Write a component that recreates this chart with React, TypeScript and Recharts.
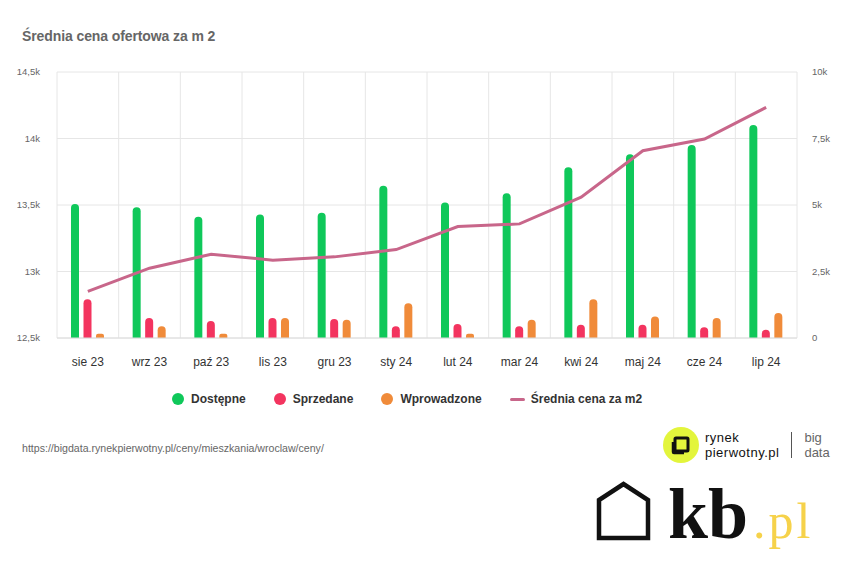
import React from 'react'
import { ComposedChart, Bar, Line, XAxis, YAxis, CartesianGrid, Legend } from 'recharts'

// monthly offer data, Wrocław
const months = ['sie 23', 'wrz 23', 'paź 23', 'lis 23', 'gru 23', 'sty 24', 'lut 24', 'mar 24', 'kwi 24', 'maj 24', 'cze 24', 'lip 24']
const dostepne = [5040, 4920, 4560, 4640, 4710, 5720, 5090, 5440, 6420, 6910, 7260, 8010]
const sprzedane = [1460, 750, 640, 750, 710, 440, 530, 440, 500, 500, 400, 310]
const wprowadzone = [160, 440, 160, 750, 690, 1310, 160, 690, 1460, 810, 750, 940]
const cena = [12850, 13025, 13130, 13085, 13110, 13165, 13338, 13358, 13559, 13908, 13996, 14234]

const priceTicks = [12500, 13000, 13500, 14000, 14500]
const countTicks = [0, 2500, 5000, 7500, 10000]

const data = months.map((m, i) => ({
  month: m,
  Dostępne: dostepne[i],
  Sprzedane: sprzedane[i],
  Wprowadzone: wprowadzone[i],
  'Średnia cena za m2': cena[i],
}))

const fmtK = (v: number) => (v === 0 ? '0' : String(v / 1000).replace('.', ',') + 'k')

const GREEN = '#0fc85a'
const RED = '#f3345f'
const ORANGE = '#f08b3a'
const PINK = '#c8668a'

function LegendContent({ payload }: any) {
  return (
    <div style={{ display: 'flex', alignItems: 'center', height: 20, gap: 28 }}>
      {(payload || []).map((e: any) => (
        <div key={e.value} style={{ display: 'flex', alignItems: 'center' }}>
          {e.type === 'line' ? (
            <span style={{ width: 15, height: 3, borderRadius: 2, background: e.color, marginRight: 6 }} />
          ) : (
            <span style={{ width: 12, height: 12, borderRadius: 6, background: e.color, marginRight: 7 }} />
          )}
          <span style={{ fontSize: 12, fontWeight: 700, color: '#333' }}>{e.value}</span>
        </div>
      ))}
    </div>
  )
}

export default function App() {
  return (
    <div style={{ position: 'absolute', left: 0, top: 0, width: 850, height: 579, background: '#fff', fontFamily: '"Liberation Sans", Arial, sans-serif', overflow: 'hidden' }}>
      <div style={{ position: 'absolute', left: 22, top: 28, fontSize: 14, lineHeight: '16px', fontWeight: 700, color: '#666', letterSpacing: -0.1 }}>
        Średnia cena ofertowa za m 2
      </div>

      <ComposedChart width={850} height={420} data={data} margin={{ top: 72, right: 0, left: 0, bottom: 52 }} barGap={4.5}>
        <CartesianGrid
          yAxisId="left"
          stroke="#e6e6e6"
          verticalCoordinatesGenerator={({ offset }: any) =>
            Array.from({ length: months.length + 1 }, (_, i) => offset.left + (i * offset.width) / months.length)
          }
        />
        <XAxis dataKey="month" height={30} tickSize={0} tickMargin={19} axisLine={{ stroke: '#dcdcdc' }} tick={{ fontSize: 12, fill: '#333' }} interval={0} />
        <YAxis yAxisId="left" orientation="left" width={57} domain={[12500, 14500]} ticks={priceTicks} tickFormatter={fmtK} axisLine={false} tickLine={false} tickSize={0} tickMargin={17} tick={{ fontSize: 9.5, fill: '#666' }} />
        <YAxis yAxisId="right" orientation="right" width={53} domain={[0, 10000]} ticks={countTicks} tickFormatter={fmtK} axisLine={false} tickLine={false} tickSize={0} tickMargin={15} tick={{ fontSize: 9.5, fill: '#666' }} />
        <Legend verticalAlign="middle" layout="horizontal" wrapperStyle={{ top: 389, left: 172, width: 'auto' }} content={<LegendContent />} />
        <Bar yAxisId="right" dataKey="Dostępne" fill={GREEN} barSize={8} radius={[4, 4, 0, 0]} isAnimationActive={false} />
        <Bar yAxisId="right" dataKey="Sprzedane" fill={RED} barSize={8} radius={[4, 4, 0, 0]} isAnimationActive={false} />
        <Bar yAxisId="right" dataKey="Wprowadzone" fill={ORANGE} barSize={8} radius={[4, 4, 0, 0]} isAnimationActive={false} />
        <Line yAxisId="left" type="linear" dataKey="Średnia cena za m2" stroke={PINK} strokeWidth={3} dot={false} activeDot={false} legendType="line" isAnimationActive={false} />
      </ComposedChart>

      <div style={{ position: 'absolute', left: 22, top: 441, fontSize: 10.6, lineHeight: '14px', color: '#666' }}>
        https://bigdata.rynekpierwotny.pl/ceny/mieszkania/wroclaw/ceny/
      </div>

      {/* rynekpierwotny.pl | big data */}
      <div style={{ position: 'absolute', left: 663, top: 427, display: 'flex', alignItems: 'center' }}>
        <div style={{ width: 36, height: 36, borderRadius: 18, background: '#e3f53c', display: 'flex', alignItems: 'center', justifyContent: 'center' }}>
          <svg width={20} height={20} viewBox="0 0 20 20">
            <path d="M5 3 H16 Q17 3 17 4 V15 Q17 16 16 16 H5 Q4 16 4 15 V4 Q4 3 5 3 Z" fill="none" stroke="#111" strokeWidth={3} />
            <path d="M2 7 V17 Q2 18 3 18 H13" fill="none" stroke="#111" strokeWidth={2.5} />
          </svg>
        </div>
        <div style={{ marginLeft: 6, fontSize: 13, lineHeight: '15px', color: '#111', letterSpacing: 0.5 }}>
          <div>rynek</div>
          <div>pierwotny.pl</div>
        </div>
        <div style={{ width: 1, height: 26, background: '#555', marginLeft: 12 }} />
        <div style={{ marginLeft: 12, fontSize: 13, lineHeight: '15px', color: '#666' }}>
          <div>big</div>
          <div>data</div>
        </div>
      </div>

      {/* kb.pl */}
      <svg style={{ position: 'absolute', left: 590, top: 475 }} width={240} height={80}>
        <path d="M9 63 V25 L33.5 9 L58 25 V63 Z" fill="none" stroke="#111" strokeWidth={4.5} strokeLinejoin="miter" />
        <text x={78} y={63} fontFamily='"Liberation Serif", serif' fontWeight={700} fontSize={72} fill="#111">kb</text>
        <text x={163} y={63} fontFamily='"Liberation Serif", serif' fontSize={50} letterSpacing={3} fill="#f6d24a">.pl</text>
      </svg>
    </div>
  )
}
